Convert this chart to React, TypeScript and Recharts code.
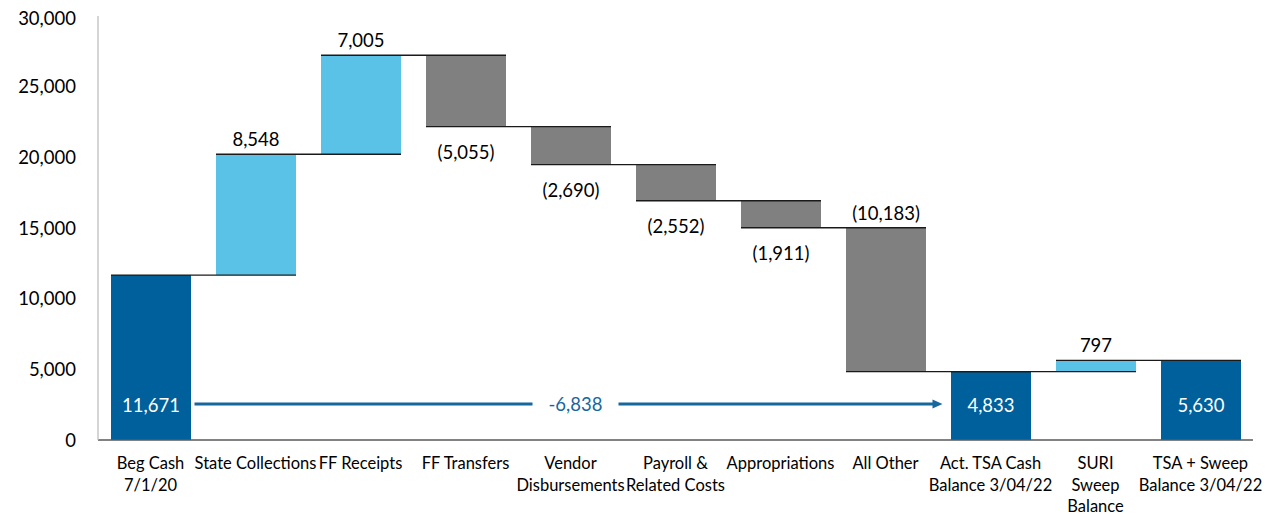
import { ComposedChart, Bar, XAxis, YAxis, Cell, LabelList, ReferenceLine } from 'recharts'

const categories = [
  'Beg Cash\n7/1/20',
  'State Collections',
  'FF Receipts',
  'FF Transfers',
  'Vendor\nDisbursements',
  'Payroll &\nRelated Costs',
  'Appropriations',
  'All Other',
  'Act. TSA Cash\nBalance 3/04/22',
  'SURI\nSweep\nBalance',
  'TSA + Sweep\nBalance 3/04/22',
]
const kinds = ['total', 'up', 'up', 'down', 'down', 'down', 'down', 'down', 'total', 'up', 'total']
const amounts = [11671, 8548, 7005, 5055, 2690, 2552, 1911, 10183, 4833, 797, 5630]
const labelSide = ['inside', 'above', 'above', 'below', 'below', 'below', 'below', 'above', 'inside', 'above', 'inside']
const yTicks = [0, 5000, 10000, 15000, 20000, 25000, 30000]
// net change between the two TSA balances, drawn as the arrow
const arrowFrom = 'Beg Cash\n7/1/20'
const arrowTo = 'Act. TSA Cash\nBalance 3/04/22'
const arrowLevel = 2550

const colors = { total: '#00609C', up: '#5BC2E7', down: '#808080' }
const FONT = 'Lato, "Noto Sans", sans-serif'

const CHART_W = 1271
const CHART_H = 508
const MARGIN = { top: 8, right: 26, left: 0, bottom: 0 }
const Y_W = 90
const BAR = 80
const STEP = (CHART_W - MARGIN.left - MARGIN.right - Y_W) / categories.length

let level = 0
const rows = categories.map((name, i) => {
  const a = amounts[i]
  if (kinds[i] === 'total') {
    level = a
    return { name, base: 0, value: a }
  }
  if (kinds[i] === 'up') {
    const base = level
    level += a
    return { name, base, value: a }
  }
  level -= a
  return { name, base: level, value: a }
})

const fmt = (v: number) => v.toLocaleString('en-US')

function BarLabel(props: any) {
  const vb = props.viewBox || props
  const i = props.index
  const x = vb.x
  const y = vb.y
  const w = vb.width
  const h = vb.height
  const cx = x + w / 2
  const kind = kinds[i]
  const side = labelSide[i]
  const endY = kind === 'down' ? y + h : y
  let text = kind === 'down' ? `(${fmt(amounts[i])})` : fmt(amounts[i])
  let ty = y - 15
  let fill = '#000'
  if (side === 'below') ty = y + h + 25
  if (side === 'inside') {
    ty = y + h - 35
    fill = '#fff'
  }
  return (
    <g>
      {i < categories.length - 1 && (
        <line x1={x} x2={x + w + STEP} y1={endY} y2={endY} stroke="#1a1a1a" strokeWidth={1.3} />
      )}
      <text x={cx} y={ty} textAnchor="middle" dominantBaseline="central" fontSize={18.5} fill={fill} fontFamily={FONT}>
        {text}
      </text>
    </g>
  )
}

function XTick(props: any) {
  const { x, y, payload } = props
  const lines = String(payload.value).split('\n')
  return (
    <g>
      {lines.map((l, k) => (
        <text key={k} x={x} y={y + 23 + k * 21.5} textAnchor="middle" dominantBaseline="central" fontSize={16.5} fill="#000" fontFamily={FONT}>
          {l}
        </text>
      ))}
    </g>
  )
}

function Arrow(props: any) {
  const { x1, x2, y1 } = props
  const start = x1 + BAR / 2 + 4
  const tip = x2 - BAR / 2 - 8
  const mid = (x1 + x2) / 2 + 5
  const gap = 43
  const c = '#17679F'
  const net = amounts[8] - amounts[0]
  return (
    <g>
      <line x1={start} x2={mid - gap} y1={y1} y2={y1} stroke={c} strokeWidth={3} />
      <line x1={mid + gap} x2={tip - 9} y1={y1} y2={y1} stroke={c} strokeWidth={3} />
      <polygon points={`${tip - 10},${y1 - 4.5} ${tip},${y1} ${tip - 10},${y1 + 4.5}`} fill={c} />
      <text x={mid} y={y1} textAnchor="middle" dominantBaseline="central" fontSize={18.5} fill={c} fontFamily={FONT}>
        {fmt(net)}
      </text>
    </g>
  )
}

export default function App() {
  return (
    <div style={{ width: CHART_W, height: CHART_H, fontFamily: FONT }}>
      <ComposedChart width={CHART_W} height={CHART_H} data={rows} margin={MARGIN}>
        <XAxis
          dataKey="name"
          interval={0}
          tickLine={false}
          tickSize={0}
          tickMargin={0}
          height={76}
          axisLine={{ stroke: '#595959', strokeWidth: 1.3 }}
          tick={(p: any) => <XTick {...p} />}
        />
        <YAxis
          width={Y_W}
          domain={[0, 30000]}
          ticks={yTicks}
          tickLine={false}
          tickMargin={16}
          axisLine={{ stroke: '#BFBFBF', strokeWidth: 1.3 }}
          tick={{ fill: '#000', fontSize: 18.5, fontFamily: FONT }}
          tickFormatter={(v: number) => fmt(v)}
        />
        <Bar dataKey="base" stackId="w" fill="transparent" barSize={BAR} isAnimationActive={false} />
        <Bar dataKey="value" stackId="w" barSize={BAR} isAnimationActive={false}>
          {rows.map((r, i) => (
            <Cell key={r.name} fill={colors[kinds[i] as keyof typeof colors]} />
          ))}
          <LabelList dataKey="value" content={(p: any) => <BarLabel {...p} />} />
        </Bar>
        <ReferenceLine
          segment={[{ x: arrowFrom, y: arrowLevel }, { x: arrowTo, y: arrowLevel }]}
          shape={(p: any) => <Arrow {...p} />}
        />
      </ComposedChart>
    </div>
  )
}
